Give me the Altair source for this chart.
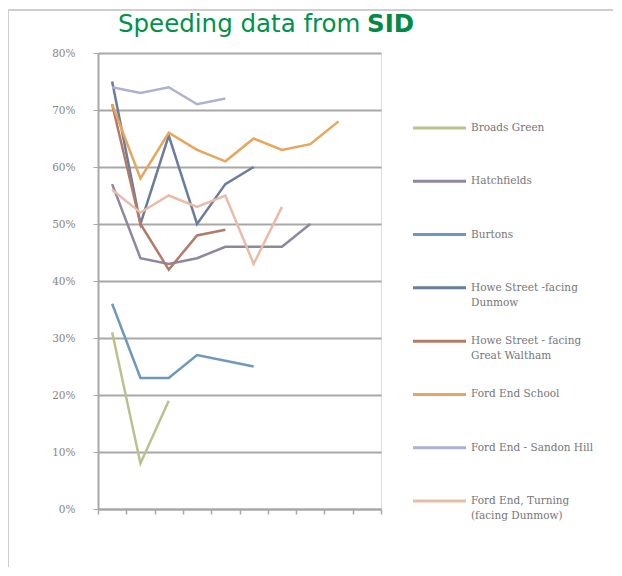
import altair as alt
import pandas as pd

series_names = [
    "Broads Green",
    "Hatchfields",
    "Burtons",
    "Howe Street -facing Dunmow",
    "Howe Street - facing Great Waltham",
    "Ford End School",
    "Ford End - Sandon Hill",
    "Ford End, Turning (facing Dunmow)",
]
legend_labels = [
    "Broads Green",
    "Hatchfields",
    "Burtons",
    "Howe Street -facing\nDunmow",
    "Howe Street - facing\nGreat Waltham",
    "Ford End School",
    "Ford End - Sandon Hill",
    "Ford End, Turning\n(facing Dunmow)",
]
colors = ["#bcc08c", "#8f86a0", "#6f98bd", "#6a7d9d", "#b27b68", "#e8a55c", "#aeb0d4", "#e9bca8"]

broads_green = [0.31, 0.08, 0.19]
hatchfields = [0.57, 0.44, 0.43, 0.44, 0.46, 0.46, 0.46, 0.50]
burtons = [0.36, 0.23, 0.23, 0.27, 0.26, 0.25]
howe_dunmow = [0.75, 0.50, 0.655, 0.50, 0.57, 0.60]
howe_waltham = [0.71, 0.50, 0.42, 0.48, 0.49]
ford_school = [0.71, 0.58, 0.66, 0.63, 0.61, 0.65, 0.63, 0.64, 0.68]
ford_sandon = [0.74, 0.73, 0.74, 0.71, 0.72]
ford_turning = [0.56, 0.52, 0.55, 0.53, 0.55, 0.43, 0.53]

y_ticks = [0, 0.1, 0.2, 0.3, 0.4, 0.5, 0.6, 0.7, 0.8]
x_tick_bounds = [0.5 + i for i in range(11)]

all_series = [broads_green, hatchfields, burtons, howe_dunmow, howe_waltham,
              ford_school, ford_sandon, ford_turning]
rows = []
for order, (name, vals) in enumerate(zip(series_names, all_series)):
    for i, v in enumerate(vals):
        rows.append({"series": name, "order": order, "idx": i + 1, "value": v})
df = pd.DataFrame(rows)
leg = pd.DataFrame({"series": series_names, "label": legend_labels})

color = alt.Color("series:N", scale=alt.Scale(domain=series_names, range=colors), legend=None)

lines = alt.Chart(df).mark_line(strokeWidth=2.5).encode(
    x=alt.X("idx:Q", scale=alt.Scale(domain=[0.5, 10.5], nice=False, zero=False),
            axis=alt.Axis(values=x_tick_bounds, labels=False, title=None, grid=False,
                          tickSize=5, tickColor="#a8a8a8", domainColor="#a8a8a8",
                          tickWidth=1.5, domainWidth=2)),
    y=alt.Y("value:Q", scale=alt.Scale(domain=[0, 0.8], nice=False),
            axis=alt.Axis(values=y_ticks, format=".0%", title=None, grid=True,
                          gridColor="#a8a8a8", gridWidth=2, tickSize=5,
                          tickColor="#a8a8a8", domainColor="#a8a8a8", domainWidth=2,
                          labelFont="DejaVu Serif", labelFontSize=10.5,
                          labelColor="#858585", labelPadding=18)),
    color=color,
    detail="series:N",
    order="idx:Q",
)

leg_y = alt.Y("series:N", sort=series_names,
              scale=alt.Scale(type="point", domain=series_names, range=[75, 448], padding=0),
              axis=None)

legend_rules = alt.Chart(leg).mark_rule(strokeWidth=3).encode(
    x=alt.value(315), x2=alt.value(368), y=leg_y, color=color)

legend_text = alt.Chart(leg).mark_text(
    align="left", baseline="middle", lineBreak="\n", lineHeight=15,
    font="DejaVu Serif", fontSize=10.5, color="#767676").encode(
    x=alt.value(373), y=leg_y, text="label:N")

title_main = alt.Chart(pd.DataFrame({"t": ["Speeding data from"]})).mark_text(
    align="left", baseline="alphabetic", font="DejaVu Sans", fontSize=24.5,
    color="#00924a").encode(x=alt.value(20), y=alt.value(-21), text="t:N")
title_bold = alt.Chart(pd.DataFrame({"t": ["SID"]})).mark_text(
    align="left", baseline="alphabetic", font="DejaVu Sans", fontSize=24.5,
    fontWeight="bold", color="#008a45").encode(x=alt.value(269), y=alt.value(-21), text="t:N")

frame_top = alt.Chart(pd.DataFrame({"a": [0]})).mark_rule(color="#cfcfcf", strokeWidth=2).encode(
    x=alt.value(-90), x2=alt.value(520), y=alt.value(-43))
frame_left = alt.Chart(pd.DataFrame({"a": [0]})).mark_rule(color="#cfcfcf", strokeWidth=2).encode(
    x=alt.value(-90), y=alt.value(-43), y2=alt.value(520))

chart = alt.layer(
    frame_top, frame_left, lines, legend_rules, legend_text, title_main, title_bold
).resolve_scale(y="independent").properties(
    width=283, height=456,
    autosize=alt.AutoSizeParams(type="none"),
    padding={"left": 90, "top": 45, "right": 232, "bottom": 58},
).configure_view(stroke=None).configure(background="white")

chart.save("out.html", embed_options={"renderer": "svg", "actions": False})
